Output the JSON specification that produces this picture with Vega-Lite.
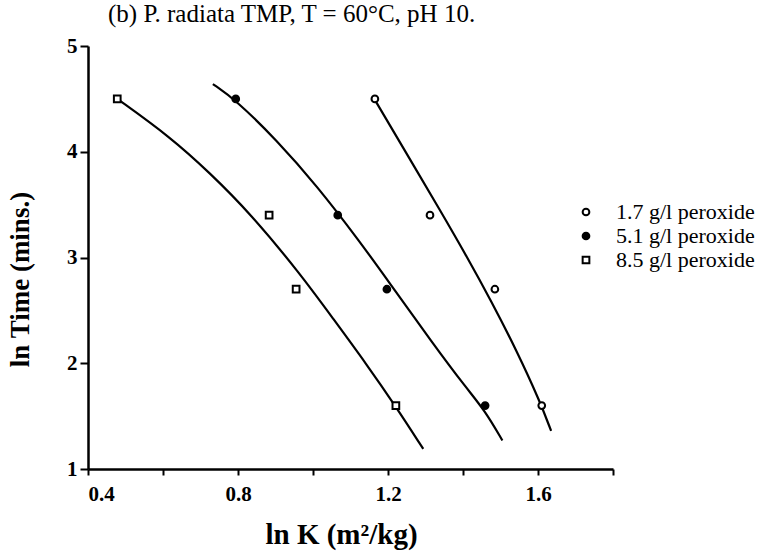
{
  "$schema": "https://vega.github.io/schema/vega-lite/v6.json",
  "width": 525,
  "height": 423,
  "autosize": {"type": "none"},
  "padding": {"left": 88, "top": 46, "right": 146, "bottom": 91},
  "background": "white",
  "title": {
    "text": "(b) P. radiata TMP, T = 60°C, pH 10.",
    "font": "Liberation Serif",
    "fontSize": 25,
    "fontWeight": "normal",
    "color": "black",
    "anchor": "start",
    "frame": "group",
    "dx": 20,
    "offset": 8
  },
  "config": {
    "view": {"stroke": null},
    "axis": {
      "grid": false,
      "domainColor": "black",
      "domainWidth": 2.5,
      "tickColor": "black",
      "tickWidth": 2,
      "labelFont": "Liberation Serif",
      "labelFontWeight": "bold",
      "labelColor": "black",
      "titleFont": "Liberation Serif",
      "titleFontWeight": "bold",
      "titleColor": "black"
    }
  },
  "datasets": {
    "curves": [
      {"series": "8.5 g/l peroxide", "x": 0.478, "y": 4.5},
      {"series": "8.5 g/l peroxide", "x": 0.619, "y": 4.14},
      {"series": "8.5 g/l peroxide", "x": 0.725, "y": 3.8},
      {"series": "8.5 g/l peroxide", "x": 0.832, "y": 3.42},
      {"series": "8.5 g/l peroxide", "x": 0.965, "y": 2.85},
      {"series": "8.5 g/l peroxide", "x": 1.054, "y": 2.42},
      {"series": "8.5 g/l peroxide", "x": 1.143, "y": 1.99},
      {"series": "8.5 g/l peroxide", "x": 1.221, "y": 1.59},
      {"series": "8.5 g/l peroxide", "x": 1.294, "y": 1.19},
      {"series": "5.1 g/l peroxide", "x": 0.733, "y": 4.64},
      {"series": "5.1 g/l peroxide", "x": 0.794, "y": 4.49},
      {"series": "5.1 g/l peroxide", "x": 0.903, "y": 4.11},
      {"series": "5.1 g/l peroxide", "x": 1.01, "y": 3.68},
      {"series": "5.1 g/l peroxide", "x": 1.125, "y": 3.15},
      {"series": "5.1 g/l peroxide", "x": 1.2, "y": 2.78},
      {"series": "5.1 g/l peroxide", "x": 1.321, "y": 2.18},
      {"series": "5.1 g/l peroxide", "x": 1.41, "y": 1.76},
      {"series": "5.1 g/l peroxide", "x": 1.459, "y": 1.55},
      {"series": "5.1 g/l peroxide", "x": 1.505, "y": 1.27},
      {"series": "1.7 g/l peroxide", "x": 1.165, "y": 4.49},
      {"series": "1.7 g/l peroxide", "x": 1.25, "y": 3.98},
      {"series": "1.7 g/l peroxide", "x": 1.34, "y": 3.44},
      {"series": "1.7 g/l peroxide", "x": 1.41, "y": 3.01},
      {"series": "1.7 g/l peroxide", "x": 1.475, "y": 2.59},
      {"series": "1.7 g/l peroxide", "x": 1.543, "y": 2.12},
      {"series": "1.7 g/l peroxide", "x": 1.605, "y": 1.64},
      {"series": "1.7 g/l peroxide", "x": 1.635, "y": 1.36}
    ],
    "points": [
      {"series": "1.7 g/l peroxide", "lnK": 1.165, "lnTime": 4.5},
      {"series": "1.7 g/l peroxide", "lnK": 1.312, "lnTime": 3.4},
      {"series": "1.7 g/l peroxide", "lnK": 1.485, "lnTime": 2.7},
      {"series": "1.7 g/l peroxide", "lnK": 1.61, "lnTime": 1.6},
      {"series": "5.1 g/l peroxide", "lnK": 0.794, "lnTime": 4.5},
      {"series": "5.1 g/l peroxide", "lnK": 1.066, "lnTime": 3.4},
      {"series": "5.1 g/l peroxide", "lnK": 1.197, "lnTime": 2.7},
      {"series": "5.1 g/l peroxide", "lnK": 1.459, "lnTime": 1.6},
      {"series": "8.5 g/l peroxide", "lnK": 0.478, "lnTime": 4.5},
      {"series": "8.5 g/l peroxide", "lnK": 0.883, "lnTime": 3.4},
      {"series": "8.5 g/l peroxide", "lnK": 0.955, "lnTime": 2.7},
      {"series": "8.5 g/l peroxide", "lnK": 1.221, "lnTime": 1.6}
    ]
  },
  "layer": [
    {
      "data": {"name": "curves"},
      "mark": {"type": "line", "interpolate": "basis", "color": "black", "strokeWidth": 2.2},
      "encoding": {
        "x": {
          "field": "x", "type": "quantitative",
          "scale": {"domain": [0.4, 1.8], "nice": false, "zero": false},
          "axis": {
            "title": "ln K (m²/kg)",
            "titleFontSize": 29,
            "titlePadding": 16,
            "titleX": 253,
            "values": [0.4, 0.6, 0.8, 1.0, 1.2, 1.4, 1.6, 1.8],
            "labelExpr": "(abs(datum.value-0.4)<0.001 || abs(datum.value-0.8)<0.001 || abs(datum.value-1.2)<0.001 || abs(datum.value-1.6)<0.001) ? format(datum.value, '.1f') : ''",
            "labelFontSize": 21,
            "labelPadding": 8,
            "tickSize": 6
          }
        },
        "y": {
          "field": "y", "type": "quantitative",
          "scale": {"domain": [1, 5], "nice": false, "zero": false},
          "axis": {
            "title": "ln Time (mins.)",
            "titleFontSize": 27,
            "titlePadding": 32,
            "titleY": 233,
            "values": [1, 2, 3, 4, 5],
            "format": "d",
            "labelFontSize": 21,
            "labelPadding": 3,
            "tickSize": 8
          }
        },
        "detail": {"field": "series"}
      }
    },
    {
      "data": {"name": "points"},
      "mark": {"type": "point", "stroke": "black", "strokeWidth": 2, "opacity": 1},
      "encoding": {
        "x": {"field": "lnK", "type": "quantitative"},
        "y": {"field": "lnTime", "type": "quantitative"},
        "shape": {
          "field": "series", "type": "nominal",
          "scale": {"domain": ["1.7 g/l peroxide", "5.1 g/l peroxide", "8.5 g/l peroxide"], "range": ["circle", "circle", "square"]},
          "legend": {
            "title": null,
            "orient": "none",
            "legendX": 487,
            "legendY": 155,
            "labelFont": "Liberation Serif",
            "labelFontSize": 22,
            "labelColor": "black",
            "labelOffset": 19,
            "rowPadding": 2,
            "symbolStrokeColor": "black",
            "symbolStrokeWidth": 2,
            "symbolOpacity": 1
          }
        },
        "fill": {
          "field": "series", "type": "nominal",
          "scale": {"domain": ["1.7 g/l peroxide", "5.1 g/l peroxide", "8.5 g/l peroxide"], "range": ["white", "black", "white"]}
        },
        "size": {
          "field": "series", "type": "nominal",
          "scale": {"domain": ["1.7 g/l peroxide", "5.1 g/l peroxide", "8.5 g/l peroxide"], "range": [45, 45, 70]}
        }
      }
    }
  ]
}
